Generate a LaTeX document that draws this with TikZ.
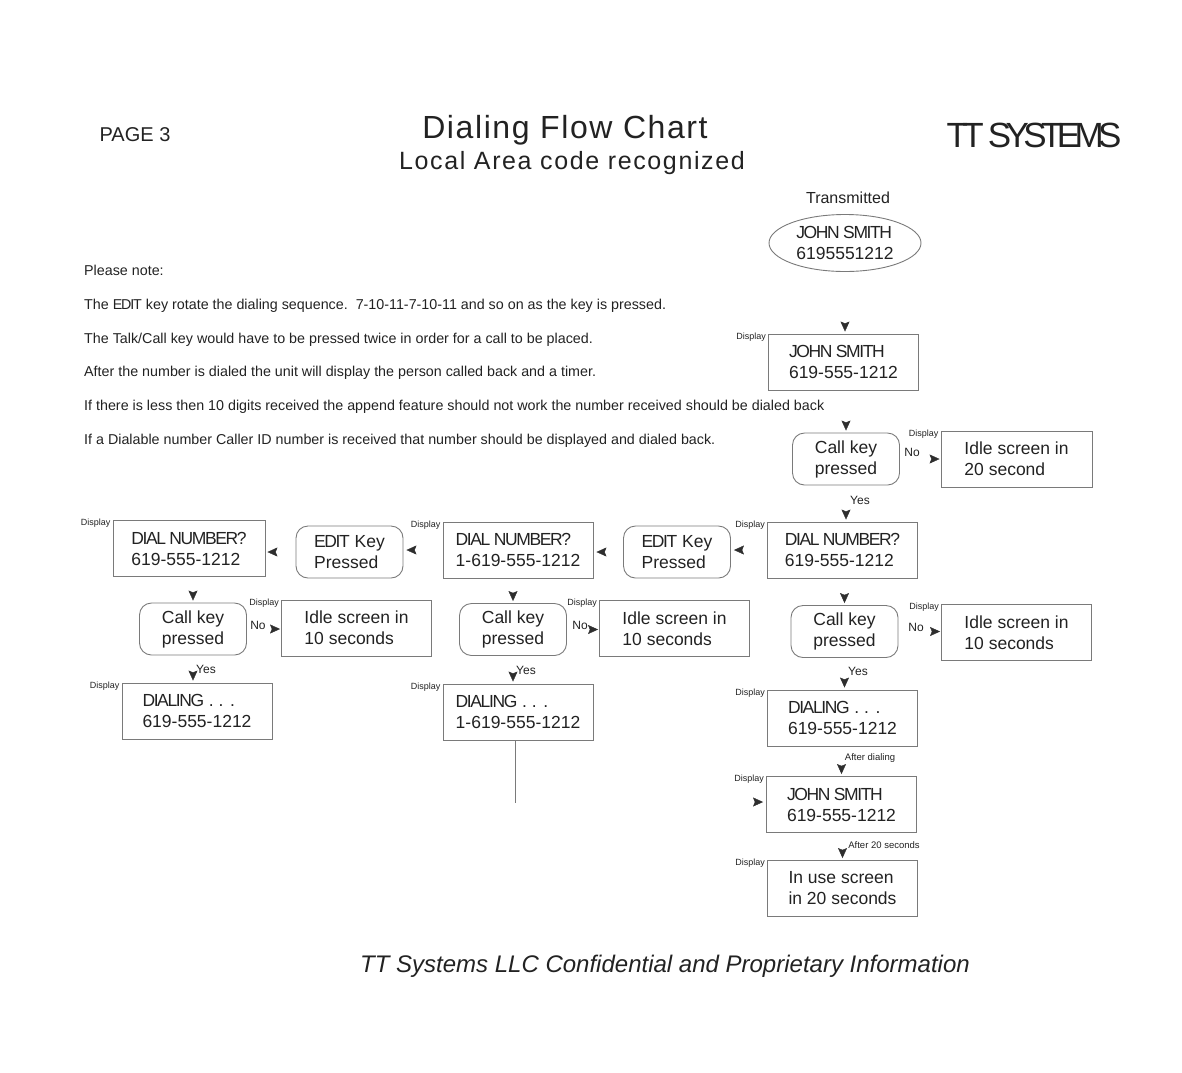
\documentclass[tikz,border=0pt]{standalone}
\usepackage{fontspec}
\setmainfont{Liberation Sans}
\usetikzlibrary{arrows.meta,decorations.markings,shapes.geometric,calc}
\definecolor{ink}{HTML}{222222}
\definecolor{edgec}{HTML}{7A7A7A}
\definecolor{tipc}{HTML}{2E2E2E}
\newcommand\tcaps[1]{{\addfontfeature{LetterSpace=-8}#1}}
\begin{document}
\begin{tikzpicture}[x=1pt,y=-1pt,
  every node/.style={text=ink, inner sep=0pt},
  fbox/.style={draw=edgec, line width=0.9pt, rectangle, minimum width=150pt, minimum height=56pt, align=left, font=\fontsize{17.5}{21}\selectfont},
  rbox/.style={fbox, rounded corners=12pt, minimum width=107pt, minimum height=52pt},
  disp/.style={anchor=north east, font=\fontsize{9}{10}\selectfont, xshift=-2pt, yshift=1pt},
  yn/.style={font=\fontsize{12}{13}\selectfont},
  note/.style={anchor=base west, font=\fontsize{14.3}{16}\selectfont},
  smalllab/.style={font=\fontsize{9.5}{11}\selectfont},
  edgeline/.style={draw=edgec, line width=0.9pt},
  arrowgap/.style={postaction={decorate}, decoration={markings, mark=at position -#1 with {\arrow{Stealth[length=10pt,width=9pt,inset=1.8pt,color=tipc]}}}},
  arrowgap/.default=2pt
]
\useasboundingbox (0,0) rectangle (1182,1072);

% header
\node[anchor=base, font=\fontsize{20}{22}\selectfont] (page) at (135,141) {PAGE 3};
\node[anchor=base, font=\fontsize{32}{36}\selectfont\addfontfeature{LetterSpace=5}] (title) at (565,138) {Dialing Flow Chart};
\node[anchor=base, font=\fontsize{25}{28}\selectfont\addfontfeature{LetterSpace=6.5}] (subtitle) at (572,169) {Local Area code recognized};
\node[anchor=base, font=\fontsize{35}{38}\selectfont\addfontfeature{LetterSpace=-16}] (brand) at (1034,147) {TT SYSTEMS};

% notes
\node[note] (n0) at (84,275) {Please note:};
\node[note] (n1) at (84,309) {The \tcaps{EDIT} key rotate the dialing sequence.\ \ 7-10-11-7-10-11 and so on as the key is pressed.};
\node[note] (n2) at (84,343) {The Talk/Call key would have to be pressed twice in order for a call to be placed.};
\node[note] (n3) at (84,376) {After the number is dialed the unit will display the person called back and a timer.};
\node[note] (n4) at (84,410) {If there is less then 10 digits received the append feature should not work the number received should be dialed back};
\node[note] (n5) at (84,444) {If a Dialable number Caller ID number is received that number should be displayed and dialed back.};

% right column top
\node[font=\fontsize{16}{18}\selectfont] (trans) at (848,198) {Transmitted};
\node[ellipse, draw=edgec, line width=0.9pt, minimum width=152pt, minimum height=57pt, align=left, font=\fontsize{17.5}{21}\selectfont] (ell) at (845,243) {\tcaps{JOHN SMITH}\\6195551212};
\node[fbox] (box1) at (843.5,362) {\tcaps{JOHN SMITH}\\619-555-1212};
\node[rbox] (ck1) at (846,459) {Call key\\pressed};
\node[fbox, minimum width=151pt] (idle1) at (1016.5,459) {Idle screen in\\20 second};
\node[fbox] (dn1) at (842.5,550) {\tcaps{DIAL NUMBER?}\\619-555-1212};
\node[rbox] (ek1) at (677,552) {\tcaps{EDIT} Key\\Pressed};
\node[fbox] (dn2) at (518,550) {\tcaps{DIAL NUMBER?}\\1-619-555-1212};
\node[rbox] (ek2) at (349.5,552) {\tcaps{EDIT} Key\\Pressed};
\node[fbox, minimum width=152pt] (dn3) at (189,548.5) {\tcaps{DIAL NUMBER?}\\619-555-1212};

% left branch
\node[rbox] (ck3) at (193,629) {Call key\\pressed};
\node[fbox] (idle3) at (356.5,628) {Idle screen in\\10 seconds};
\node[fbox] (dial3) at (197,711) {\tcaps{DIALING} . . .\\619-555-1212};
% middle branch
\node[rbox] (ck2) at (513,629.5) {Call key\\pressed};
\node[fbox] (idle2) at (674.5,628.5) {Idle screen in\\10 seconds};
\node[fbox] (dial2) at (518,712) {\tcaps{DIALING} . . .\\1-619-555-1212};
% right branch
\node[rbox] (ckR) at (844.5,631.5) {Call key\\pressed};
\node[fbox] (idleR) at (1016.5,632.5) {Idle screen in\\10 seconds};
\node[fbox] (dialR) at (842.5,718) {\tcaps{DIALING} . . .\\619-555-1212};
\node[fbox] (js2) at (841.5,804.5) {\tcaps{JOHN SMITH}\\619-555-1212};
\node[fbox] (inuse) at (842.5,888.5) {In use screen\\in 20 seconds};

% Display labels
\foreach \b in {box1,idle1,dn1,dn2,dn3,idle3,dial3,idle2,dial2,idleR,dialR,js2,inuse}
  \node[disp] (disp-\b) at (\b.north west) {Display};

% Yes / No labels
\node[yn] (y1) at (860,500) {Yes};
\node[yn] (no1) at (912,452) {No};
\node[yn] (no3) at (258,625) {No};
\node[yn] (y3) at (206,669) {Yes};
\node[yn] (no2) at (580,625) {No};
\node[yn] (y2) at (526,670) {Yes};
\node[yn] (noR) at (916,627) {No};
\node[yn] (yR) at (858,671) {Yes};
\node[smalllab] (ad) at (870,758) {After dialing};
\node[smalllab] (a20) at (884,845) {After 20 seconds};

% arrowheads
\path[arrowgap] (ell.south) -- (ell.south |- box1.north);
\path[arrowgap] (box1.south -| ck1.north) -- (ck1.north);
\path[arrowgap=1pt] (ck1.east) -- (ck1.east -| idle1.west);
\path[arrowgap] (ck1.south) -- (ck1.south |- dn1.north);
\path[arrowgap=3pt] (dn1.west) -- (dn1.west -| ek1.east);
\path[arrowgap=3pt] (ek1.west) -- (ek1.west -| dn2.east);
\path[arrowgap=3pt] (dn2.west) -- (dn2.west -| ek2.east);
\path[arrowgap=2pt] (ek2.west) -- (ek2.west -| dn3.east);
\path[arrowgap] (dn3.south -| ck3.north) -- (ck3.north);
\path[arrowgap=1pt] (ck3.east) -- (ck3.east -| idle3.west);
\path[arrowgap] (ck3.south) -- (ck3.south |- dial3.north);
\path[arrowgap] (dn2.south -| ck2.north) -- (ck2.north);
\path[arrowgap=1pt] (ck2.east) -- (ck2.east -| idle2.west);
\path[arrowgap] (ck2.south) -- (ck2.south |- dial2.north);
\path[arrowgap] (dn1.south -| ckR.north) -- (ckR.north);
\path[arrowgap=1pt] (ckR.east) -- (ckR.east -| idleR.west);
\path[arrowgap] (ckR.south) -- (ckR.south |- dialR.north);
\path[arrowgap] (dialR.south -| js2.north) -- (js2.north);
\path[arrowgap] (js2.south -| inuse.north) -- (inuse.north);
\coordinate (jsin) at (740,802);
\path[arrowgap=3pt] (jsin) -- (jsin -| js2.west);
\coordinate (dend) at (515,803);
\draw[edgeline] (dial2.south -| dend) -- (dend);

% footer
\node[anchor=base, font=\itshape\fontsize{24}{28}\selectfont] (foot) at (665,972) {TT Systems LLC Confidential and Proprietary Information};
\end{tikzpicture}
\end{document}
